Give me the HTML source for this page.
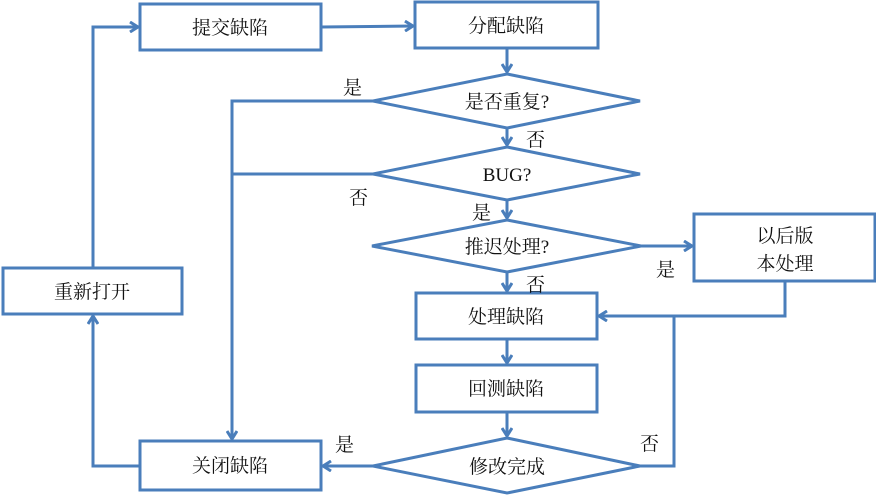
<!DOCTYPE html>
<html><head><meta charset="utf-8"><style>
html,body{margin:0;padding:0;background:#fff;}
svg text{font-family:"Liberation Serif","Noto Serif CJK SC",serif;font-size:19px;fill:#111;}
</style></head><body>
<svg width="876" height="496" viewBox="0 0 876 496" xmlns="http://www.w3.org/2000/svg">
<defs><marker id="a" markerWidth="10" markerHeight="12" refX="9" refY="6" orient="auto" markerUnits="userSpaceOnUse">
<polyline points="1,1 9,6 1,11" fill="none" stroke="#4a7ebb" stroke-width="3"/></marker></defs>
<g fill="none" stroke="#4a7ebb" stroke-width="3">
<rect x="140" y="4" width="181" height="46"/>
<rect x="415" y="2" width="183" height="46"/>
<rect x="3" y="268" width="179" height="46"/>
<rect x="694" y="214" width="181" height="67"/>
<rect x="416" y="293" width="181" height="46"/>
<rect x="416" y="365" width="181" height="47"/>
<rect x="140" y="441" width="181" height="49"/>
<polygon points="507,74 640,101 507,128 373,101"/>
<polygon points="507,147 640,174 507,200 373,174"/>
<polygon points="507,220 641,246 507,272 372,246"/>
<polygon points="507,438 640,466 507,493 373,466"/>
<line x1="321" y1="27" x2="413" y2="26" marker-end="url(#a)"/>
<polyline points="93,268 93,27 138,27" marker-end="url(#a)"/>
<line x1="507" y1="48" x2="507" y2="72" marker-end="url(#a)"/>
<line x1="507" y1="128" x2="507" y2="145" marker-end="url(#a)"/>
<line x1="507" y1="200" x2="507" y2="218" marker-end="url(#a)"/>
<line x1="507" y1="272" x2="507" y2="291" marker-end="url(#a)"/>
<line x1="507" y1="339" x2="507" y2="363" marker-end="url(#a)"/>
<line x1="507" y1="412" x2="507" y2="436" marker-end="url(#a)"/>
<polyline points="373,101 232,101 232,439" marker-end="url(#a)"/>
<line x1="373" y1="174" x2="232" y2="174"/>
<line x1="641" y1="246" x2="692" y2="246" marker-end="url(#a)"/>
<polyline points="785,281 785,316 599,316" marker-end="url(#a)"/>
<polyline points="640,466 674,466 674,316"/>
<line x1="373" y1="466" x2="323" y2="466" marker-end="url(#a)"/>
<polyline points="140,466 93,466 93,316" marker-end="url(#a)"/>
</g>
<g text-anchor="middle">
<text x="230" y="34">提交缺陷</text>
<text x="506" y="32">分配缺陷</text>
<text x="92" y="298">重新打开</text>
<text x="785" y="242">以后版</text>
<text x="785" y="270">本处理</text>
<text x="506" y="323">处理缺陷</text>
<text x="506" y="395">回测缺陷</text>
<text x="230" y="472">关闭缺陷</text>
<text x="507" y="108">是否重复?</text>
<text x="507" y="181">BUG?</text>
<text x="507" y="253">推迟处理?</text>
<text x="507" y="473">修改完成</text>
</g>
<text x="343" y="94">是</text>
<text x="526" y="146">否</text>
<text x="349" y="204">否</text>
<text x="472" y="219">是</text>
<text x="656" y="276">是</text>
<text x="526" y="291">否</text>
<text x="640" y="450">否</text>
<text x="335" y="451">是</text>
</svg>
</body></html>
